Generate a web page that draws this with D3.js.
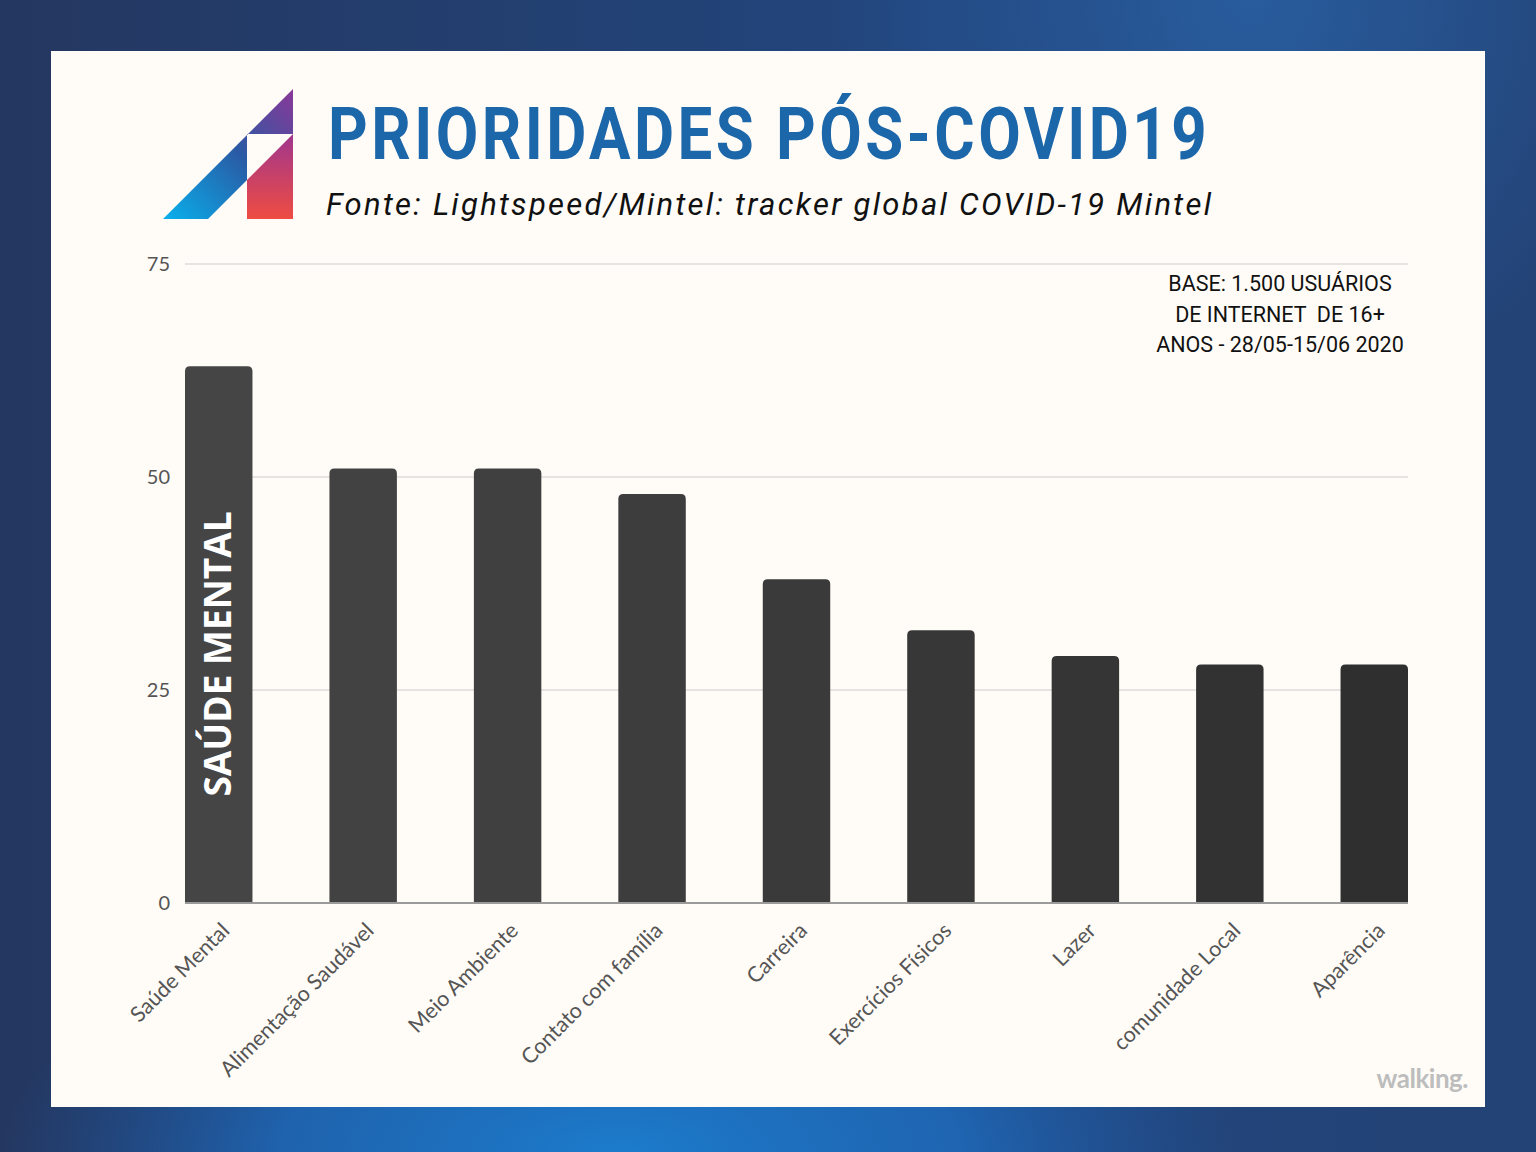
<!DOCTYPE html>
<meta charset="utf-8">
<style>
body { margin: 0; }
.tick-label { font: 20px Lato, sans-serif; fill: #555; }
.cat-label { font: 21.5px Lato, sans-serif; fill: #555; }
.base-note { font: 21.5px Roboto, sans-serif; fill: #111; white-space: pre; }
</style>
<svg width="1536" height="1152"></svg>
<script src="https://cdn.jsdelivr.net/npm/d3@7"></script>
<script>

var categories = ["Saúde Mental", "Alimentação Saudável", "Meio Ambiente", "Contato com família",
    "Carreira", "Exercícios Físicos", "Lazer", "comunidade Local", "Aparência"];
var values = [63, 51, 51, 48, 38, 32, 29, 28, 28];
var yTicks = [0, 25, 50, 75];
var baseNote = ["BASE: 1.500 USUÁRIOS", "DE INTERNET  DE 16+", "ANOS - 28/05-15/06 2020"];

var svg = d3.select("svg");
var defs = svg.append("defs");

// background
var bgLin = defs.append("linearGradient").attr("id", "bgLin")
    .attr("x1", 0).attr("y1", 0).attr("x2", 1).attr("y2", 0);
bgLin.append("stop").attr("offset", 0).attr("stop-color", "#243760");
bgLin.append("stop").attr("offset", 0.6).attr("stop-color", "#22467e");
bgLin.append("stop").attr("offset", 1).attr("stop-color", "#234275");

var bgRad = defs.append("radialGradient").attr("id", "bgRad")
    .attr("gradientUnits", "userSpaceOnUse")
    .attr("cx", 620).attr("cy", 1152).attr("r", 620)
    .attr("gradientTransform", "translate(620,1152) scale(1,0.4) translate(-620,-1152)");
bgRad.append("stop").attr("offset", 0).attr("stop-color", "#1c7ccc").attr("stop-opacity", 1);
bgRad.append("stop").attr("offset", 0.55).attr("stop-color", "#1e6cbe").attr("stop-opacity", 0.8);
bgRad.append("stop").attr("offset", 1).attr("stop-color", "#1e5aa8").attr("stop-opacity", 0);

var bgRad2 = defs.append("radialGradient").attr("id", "bgRad2")
    .attr("gradientUnits", "userSpaceOnUse")
    .attr("cx", 1250).attr("cy", 0).attr("r", 420);
bgRad2.append("stop").attr("offset", 0).attr("stop-color", "#2a62a6").attr("stop-opacity", 0.8);
bgRad2.append("stop").attr("offset", 1).attr("stop-color", "#2a62a6").attr("stop-opacity", 0);

svg.append("rect").attr("width", 1536).attr("height", 1152).attr("fill", "url(#bgLin)");
svg.append("rect").attr("width", 1536).attr("height", 1152).attr("fill", "url(#bgRad)");
svg.append("rect").attr("width", 1536).attr("height", 1152).attr("fill", "url(#bgRad2)");

// card
svg.append("rect")
    .attr("x", 51).attr("y", 51)
    .attr("width", 1434).attr("height", 1056)
    .attr("fill", "#fffcf7");

// logo
var gA = defs.append("linearGradient").attr("id", "logoA")
    .attr("gradientUnits", "userSpaceOnUse")
    .attr("x1", 163).attr("y1", 219).attr("x2", 293).attr("y2", 89);
gA.append("stop").attr("offset", 0).attr("stop-color", "#08b0ec");
gA.append("stop").attr("offset", 0.55).attr("stop-color", "#2a5aa4");
gA.append("stop").attr("offset", 1).attr("stop-color", "#8a3898");

var gB = defs.append("linearGradient").attr("id", "logoB")
    .attr("gradientUnits", "userSpaceOnUse")
    .attr("x1", 0).attr("y1", 134).attr("x2", 0).attr("y2", 219);
gB.append("stop").attr("offset", 0).attr("stop-color", "#a0368e");
gB.append("stop").attr("offset", 1).attr("stop-color", "#ef4c42");

var logo = svg.append("g");
logo.append("path")
    .attr("d", "M163,219 L208,219 L247,180 L247,134 L293,134 L293,89 Z")
    .attr("fill", "url(#logoA)");
logo.append("path")
    .attr("d", "M247,180 L293,134 L293,219 L247,219 Z")
    .attr("fill", "url(#logoB)");

// titles
svg.append("text")
    .attr("x", 328).attr("y", 159)
    .attr("textLength", 882)
    .attr("lengthAdjust", "spacingAndGlyphs")
    .style("font", "bold 72px Roboto, sans-serif")
    .style("letter-spacing", "4px")
    .attr("fill", "#1c66aa")
    .text("PRIORIDADES PÓS-COVID19");

svg.append("text")
    .attr("x", 326).attr("y", 215)
    .attr("textLength", 885)
    .style("font", "italic 31px Roboto, sans-serif")
    .attr("fill", "#111")
    .text("Fonte: Lightspeed/Mintel: tracker global COVID-19 Mintel");

// chart
var x = d3.scaleBand()
    .domain(categories)
    .range([185, 1408])
    .paddingInner(0.533)
    .paddingOuter(0);

var y = d3.scaleLinear()
    .domain([0, 75])
    .range([903, 264]);

var grid = svg.append("g");
grid.selectAll("line")
    .data(yTicks.filter(function(d) { return d > 0; }))
    .enter().append("line")
    .attr("x1", 185).attr("x2", 1408)
    .attr("y1", y).attr("y2", y)
    .attr("stroke", "#ddd")
    .attr("stroke-width", 1.5);

svg.append("g").selectAll("text")
    .data(yTicks)
    .enter().append("text")
    .attr("class", "tick-label")
    .attr("x", 170)
    .attr("y", y)
    .attr("dy", "0.35em")
    .attr("text-anchor", "end")
    .text(function(d) { return d; });

var shade = d3.interpolateRgb("#454545", "#2f2f2f");

function barPath(x0, w, top, bottom, r) {
    return "M" + x0 + "," + bottom +
        "V" + (top + r) +
        "Q" + x0 + "," + top + " " + (x0 + r) + "," + top +
        "H" + (x0 + w - r) +
        "Q" + (x0 + w) + "," + top + " " + (x0 + w) + "," + (top + r) +
        "V" + bottom + "Z";
}

svg.append("g").selectAll("path")
    .data(values)
    .enter().append("path")
    .attr("d", function(d, i) {
        return barPath(x(categories[i]), x.bandwidth(), y(d), y(0), 5);
    })
    .attr("fill", function(d, i) { return shade(i / (values.length - 1)); });

svg.append("line")
    .attr("x1", 185).attr("x2", 1408)
    .attr("y1", y(0)).attr("y2", y(0))
    .attr("stroke", "#9a9a9a")
    .attr("stroke-width", 2);

// in-bar label
svg.append("text")
    .attr("transform", "translate(" + (x(categories[0]) + x.bandwidth() / 2 + 12) + "," + 654 + ") rotate(-90)")
    .attr("text-anchor", "middle")
    .style("font", "bold 37px 'Open Sans', sans-serif")
    .attr("fill", "#fff")
    .text("SAÚDE MENTAL");

// category labels
svg.append("g").selectAll("text")
    .data(categories)
    .enter().append("text")
    .attr("class", "cat-label")
    .attr("text-anchor", "end")
    .attr("transform", function(d) {
        return "translate(" + (x(d) + x.bandwidth() / 2 + 12) + "," + 932 + ") rotate(-45)";
    })
    .text(function(d) { return d; });

// base note
svg.append("g").selectAll("text")
    .data(baseNote)
    .enter().append("text")
    .attr("class", "base-note")
    .attr("x", 1280)
    .attr("y", function(d, i) { return 291 + i * 30.5; })
    .attr("text-anchor", "middle")
    .text(function(d) { return d; });

// watermark
svg.append("text")
    .attr("x", 1468).attr("y", 1088)
    .attr("text-anchor", "end")
    .style("font", "bold 26px Lato, sans-serif")
    .style("letter-spacing", "-0.5px")
    .attr("fill", "#bdbdbd")
    .text("walking.");

</script>
